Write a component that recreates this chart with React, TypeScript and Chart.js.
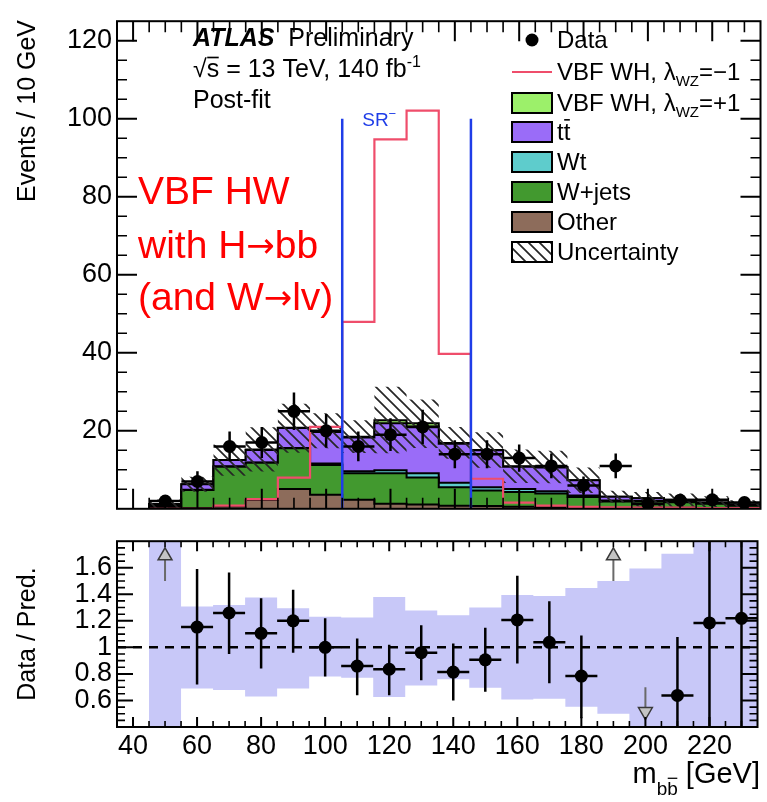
import React, { useEffect, useRef } from "react";
import { Chart, registerables } from "chart.js";

Chart.register(...registerables);

const FONT = '"Liberation Sans", Arial, Helvetica, sans-serif';
const ARROW_FONT = '"DejaVu Sans", "Liberation Sans", sans-serif';

// ---------------- data ----------------
const binCenters = [50, 60, 70, 80, 90, 100, 110, 120, 130, 140, 150, 160, 170, 180, 190, 200, 210, 220, 230];
const binWidth = 10;

const other = [0.3, 0.2, 0.6, 2.3, 5.1, 3.6, 2.3, 1.3, 1.1, 0.8, 0.7, 0.5, 0.4, 0.3, 0.3, 0.3, 0.3, 0.2, 0.2];
const wjets = [0.4, 4.6, 10.2, 9.5, 10.4, 7.6, 6.8, 7.8, 6.9, 4.7, 4.0, 3.8, 3.5, 2.7, 1.6, 1.6, 1.4, 1.1, 0.6];
const wt = [0.1, 0.1, 0.1, 0.1, 0.1, 0.4, 0.5, 0.8, 1.1, 1.2, 0.8, 0.8, 0.6, 0.4, 0.2, 0.1, 0.1, 0.1, 0.1];
const ttbar = [0.4, 1.4, 1.6, 3.2, 5.1, 8.1, 8.7, 12.0, 12.0, 10.0, 9.5, 5.7, 6.1, 3.9, 1.0, 0.7, 0.5, 0.2, 0.2];
const vbfPlus = [0, 0, 0, 0.1, 0.1, 0.2, 0.2, 0.8, 0.8, 0.2, 0.1, 0.1, 0.1, 0, 0, 0, 0, 0, 0];
const vbfMinus = [0, 0, 0.8, 2.5, 8.0, 21.0, 47.9, 94.7, 102.1, 39.7, 7.7, 1.6, 0.8, 0.5, 0.4, 0.3, 0.3, 0.2, 0.2];

const dataCounts = [2, 7, 16, 17, 25, 20, 16, 19, 21, 14, 14, 13, 11, 6, 11, 1.2, 2.2, 2.3, 1.6];
const dataErr = [1.4, 2.6, 3.8, 4.0, 4.8, 4.3, 3.8, 4.2, 4.4, 3.6, 3.6, 3.5, 3.2, 2.3, 3.2, 1.0, 1.4, 1.4, 1.2];

// relative uncertainty band (upper / lower edge, as ratio to prediction)
const uncHi = [2.0, 1.308, 1.32, 1.376, 1.294, 1.23, 1.226, 1.379, 1.278, 1.242, 1.3, 1.395, 1.388, 1.447, 1.5, 1.595, 1.706, 2.0, 2.0];
const uncLo = [0.0, 0.69, 0.678, 0.63, 0.69, 0.78, 0.772, 0.626, 0.713, 0.76, 0.696, 0.607, 0.612, 0.553, 0.5, 0.0, 0.0, 0.0, 0.0];

// Data / Pred. ratio (null = off scale, drawn as an arrow)
const ratioValues = [null, 1.153, 1.259, 1.106, 1.2, 1.0, 0.859, 0.835, 0.96, 0.814, 0.906, 1.207, 1.038, 0.784, null, null, 0.638, 1.184, 1.219];
const ratioErrHi = [null, 1.59, 1.565, 1.37, 1.435, 1.22, 1.066, 1.02, 1.167, 1.03, 1.148, 1.54, 1.348, 1.09, null, null, 1.078, 1.9, 1.9];
const ratioErrLo = [null, 0.72, 0.95, 0.84, 0.96, 0.78, 0.64, 0.64, 0.753, 0.6, 0.666, 0.878, 0.73, 0.466, null, null, 0.3, 0.3, 0.3];

const arrowUpBins = [50, 190];
const arrowDownBins = [200];
const arrowUpTail = 1.5;
const arrowUpHead = 1.69;
const arrowDownTail = 0.7;
const arrowDownHead = 0.516;

const srEdges = [105, 145];
const srHeight = 100;

const xTicks = [40, 60, 80, 100, 120, 140, 160, 180, 200, 220];
const yTicksTop = [20, 40, 60, 80, 100, 120];
const yTicksRatio = [0.6, 0.8, 1, 1.2, 1.4, 1.6];
const xRange = [35, 235];
const yRangeTop = [0, 125];
const yRangeRatio = [0.4, 1.8];

const COLORS = {
  other: "#8d6c5b",
  wjets: "#42992f",
  wt: "#5ecccc",
  ttbar: "#9a6cf8",
  vbfPlus: "#9cf06a",
  red: "#ef4d6b",
  blue: "#1f3de8",
  band: "#c8c8f8",
};

// ---------------- helpers ----------------
const n = binCenters.length;
const cumulate = (layers: number[][]) => binCenters.map((_, i) => layers.reduce((s, a) => s + a[i], 0));
const cumOther = cumulate([other]);
const cumWjets = cumulate([other, wjets]);
const cumWt = cumulate([other, wjets, wt]);
const cumTtbar = cumulate([other, wjets, wt, ttbar]);
const cumVbf = cumulate([other, wjets, wt, ttbar, vbfPlus]);
const hatchHi = cumVbf.map((t, i) => t * uncHi[i]);
const hatchLo = cumVbf.map((t, i) => t * uncLo[i]);

function histPoints(values: number[], closed: boolean) {
  const pts: { x: number; y: number }[] = [];
  const left = binCenters[0] - binWidth / 2;
  const right = binCenters[n - 1] + binWidth / 2;
  if (closed) pts.push({ x: left, y: 0 });
  values.forEach((v, i) => pts.push({ x: binCenters[i] - binWidth / 2, y: v }));
  pts.push({ x: right, y: values[n - 1] });
  if (closed) pts.push({ x: right, y: 0 });
  return pts;
}

type Part = { t: string; size: number; dy?: number; bold?: boolean; italic?: boolean; over?: number; family?: string };
function fontStr(p: Part) {
  return `${p.italic ? "italic " : ""}${p.bold ? "bold " : ""}${p.size}px ${p.family || FONT}`;
}
function drawRich(ctx: CanvasRenderingContext2D, parts: Part[], x: number, y: number, align: "left" | "right", color: string) {
  ctx.save();
  ctx.fillStyle = color;
  ctx.strokeStyle = color;
  ctx.textAlign = "left";
  ctx.textBaseline = "alphabetic";
  const widths = parts.map((p) => {
    ctx.font = fontStr(p);
    return ctx.measureText(p.t).width;
  });
  const total = widths.reduce((a, b) => a + b, 0);
  let cx = align === "right" ? x - total : x;
  parts.forEach((p, i) => {
    ctx.font = fontStr(p);
    const yy = y + (p.dy || 0);
    ctx.fillText(p.t, cx, yy);
    if (p.over) {
      ctx.lineWidth = Math.max(1.2, p.size / 15);
      ctx.beginPath();
      const top = yy - p.size * p.over;
      ctx.moveTo(cx + 0.5, top);
      ctx.lineTo(cx + widths[i] - 0.5, top);
      ctx.stroke();
    }
    cx += widths[i];
  });
  ctx.restore();
}

function tickValues(min: number, max: number, step: number) {
  const out: number[] = [];
  const k0 = Math.ceil(min / step - 1e-9);
  const k1 = Math.floor(max / step + 1e-9);
  for (let k = k0; k <= k1; k++) out.push(+(k * step).toFixed(6));
  return out;
}
const isMult = (v: number, step: number) => Math.abs(v / step - Math.round(v / step)) < 1e-6;

function drawFrameTicks(chart: any, o: any) {
  const { ctx, chartArea: a, scales } = chart;
  const x = scales.x, y = scales.y;
  ctx.save();
  ctx.strokeStyle = "#000";
  tickValues(x.min, x.max, o.xMinor).forEach((v) => {
    if (Math.abs(v - x.min) < 1e-6 || Math.abs(v - x.max) < 1e-6) return;
    const major = isMult(v, o.xMajor);
    const len = major ? o.xMajorLen : o.xMinorLen;
    const px = x.getPixelForValue(v);
    ctx.lineWidth = major ? 2 : 1.6;
    ctx.beginPath();
    ctx.moveTo(px, a.bottom);
    ctx.lineTo(px, a.bottom - len);
    ctx.moveTo(px, a.top);
    ctx.lineTo(px, a.top + len);
    ctx.stroke();
  });
  tickValues(y.min, y.max, o.yMinor).forEach((v) => {
    if (Math.abs(v - y.min) < 1e-6 || Math.abs(v - y.max) < 1e-6) return;
    const major = isMult(v, o.yMajor);
    const len = major ? o.yMajorLen : o.yMinorLen;
    const py = y.getPixelForValue(v);
    ctx.lineWidth = major ? 2 : 1.6;
    ctx.beginPath();
    ctx.moveTo(a.left, py);
    ctx.lineTo(a.left + len, py);
    ctx.moveTo(a.right, py);
    ctx.lineTo(a.right - len, py);
    ctx.stroke();
  });
  ctx.lineWidth = 2;
  ctx.strokeRect(a.left, a.top, a.right - a.left, a.bottom - a.top);
  ctx.restore();
}

function makeHatch(): CanvasPattern | string {
  const c = document.createElement("canvas");
  const s = 11;
  c.width = s;
  c.height = s;
  const g = c.getContext("2d");
  if (!g) return "rgba(0,0,0,0.3)";
  g.strokeStyle = "#262626";
  g.lineWidth = 1.7;
  g.beginPath();
  for (let k = -1; k <= 1; k++) {
    g.moveTo(-1, k * s - 1);
    g.lineTo(s + 1, s + k * s + 1);
  }
  g.stroke();
  const p = g.createPattern(c, "repeat");
  return p || "rgba(0,0,0,0.3)";
}

const DATA_IDX = 8;

function topConfig(hatch: any): any {
  const layer = (label: string, values: number[], color: string, order: number) => ({
    type: "line",
    label,
    data: histPoints(values, true),
    stepped: "before",
    fill: "origin",
    backgroundColor: color,
    borderColor: "#000",
    borderWidth: 2,
    pointRadius: 0,
    tension: 0,
    order,
  });
  const datasets = [
    layer("Other", cumOther, COLORS.other, 20),
    layer("W+jets", cumWjets, COLORS.wjets, 21),
    layer("Wt", cumWt, COLORS.wt, 22),
    layer("tt", cumTtbar, COLORS.ttbar, 23),
    layer("VBF WH +1", cumVbf, COLORS.vbfPlus, 24),
    {
      type: "line", label: "unc lo", data: histPoints(hatchLo, false), stepped: "before",
      borderWidth: 0, borderColor: "transparent", pointRadius: 0, fill: false, order: 15,
    },
    {
      type: "line", label: "Uncertainty", data: histPoints(hatchHi, false), stepped: "before",
      borderWidth: 0, borderColor: "transparent", pointRadius: 0, fill: "-1", backgroundColor: hatch, order: 14,
    },
    {
      type: "line", label: "VBF WH -1", data: histPoints(vbfMinus, true), stepped: "before",
      borderColor: COLORS.red, borderWidth: 2.2, pointRadius: 0, fill: false, order: 10,
    },
    {
      type: "scatter", label: "Data", data: binCenters.map((c, i) => ({ x: c, y: dataCounts[i] })),
      pointRadius: 6.5, pointBackgroundColor: "#000", pointBorderWidth: 0, showLine: false, order: 1,
    },
  ];

  const plugin = {
    id: "topDeco",
    beforeDatasetDraw(chart: any, args: any) {
      if (args.index !== DATA_IDX) return;
      const { ctx, chartArea: a, scales: { x, y } } = chart;
      ctx.save();
      ctx.beginPath();
      ctx.rect(a.left, a.top, a.right - a.left, a.bottom - a.top);
      ctx.clip();
      ctx.strokeStyle = "#000";
      ctx.lineWidth = 2.5;
      binCenters.forEach((c, i) => {
        const v = dataCounts[i];
        const e = dataErr[i];
        const px = x.getPixelForValue(c);
        const py = y.getPixelForValue(v);
        ctx.beginPath();
        ctx.moveTo(px, y.getPixelForValue(Math.max(v - e, 0)));
        ctx.lineTo(px, y.getPixelForValue(v + e));
        ctx.moveTo(x.getPixelForValue(c - binWidth / 2), py);
        ctx.lineTo(x.getPixelForValue(c + binWidth / 2), py);
        ctx.stroke();
      });
      ctx.restore();
    },
    afterDatasetsDraw(chart: any) {
      const { ctx, scales: { x, y } } = chart;
      ctx.save();
      ctx.strokeStyle = COLORS.blue;
      ctx.lineWidth = 2.5;
      srEdges.forEach((e) => {
        const px = x.getPixelForValue(e);
        ctx.beginPath();
        ctx.moveTo(px, y.getPixelForValue(0));
        ctx.lineTo(px, y.getPixelForValue(srHeight));
        ctx.stroke();
      });
      ctx.restore();
      drawRich(ctx, [{ t: "SR", size: 19 }, { t: "\u2212", size: 13, dy: -8 }], x.getPixelForValue(srEdges[0]) + 20, 126, "left", COLORS.blue);

      drawFrameTicks(chart, {
        xMajor: 20, xMinor: 5, xMajorLen: 20, xMinorLen: 11,
        yMajor: 20, yMinor: 5, yMajorLen: 20, yMinorLen: 10,
      });

      // ATLAS labels
      drawRich(ctx, [
        { t: "ATLAS", size: 25, bold: true, italic: true },
        { t: "  Preliminary", size: 25 },
      ], 193, 46, "left", "#000");
      drawRich(ctx, [
        { t: "\u221A", size: 25 },
        { t: "s", size: 25, over: 0.78 },
        { t: " = 13 TeV, 140 fb", size: 25 },
        { t: "-1", size: 16, dy: -10 },
      ], 193, 77, "left", "#000");
      drawRich(ctx, [{ t: "Post-fit", size: 25 }], 193, 108, "left", "#000");

      // red annotation
      const red = "#ff0000";
      drawRich(ctx, [{ t: "VBF HW", size: 39 }], 138, 204, "left", red);
      drawRich(ctx, [
        { t: "with H", size: 39 },
        { t: "\u2192", size: 34, family: ARROW_FONT, dy: -1 },
        { t: "bb", size: 39 },
      ], 138, 258, "left", red);
      drawRich(ctx, [
        { t: "(and W", size: 39 },
        { t: "\u2192", size: 34, family: ARROW_FONT, dy: -1 },
        { t: "lv)", size: 39 },
      ], 138, 310, "left", red);

      // legend
      const rows = [40, 72, 103, 132, 162, 192, 222, 252];
      const bx = 512, bw = 40, bh = 20, tx = 557, fs = 24;
      ctx.save();
      ctx.fillStyle = "#000";
      ctx.beginPath();
      ctx.arc(bx + bw / 2, rows[0], 6.5, 0, Math.PI * 2);
      ctx.fill();
      ctx.strokeStyle = COLORS.red;
      ctx.lineWidth = 2.2;
      ctx.beginPath();
      ctx.moveTo(bx, rows[1]);
      ctx.lineTo(bx + bw, rows[1]);
      ctx.stroke();
      const boxes: [number, any][] = [
        [2, COLORS.vbfPlus], [3, COLORS.ttbar], [4, COLORS.wt], [5, COLORS.wjets], [6, COLORS.other], [7, hatch],
      ];
      boxes.forEach(([r, col]) => {
        const top = rows[r] - bh / 2;
        if (r === 7) {
          ctx.fillStyle = "#fff";
          ctx.fillRect(bx, top, bw, bh);
        }
        ctx.fillStyle = col;
        ctx.fillRect(bx, top, bw, bh);
        ctx.strokeStyle = "#000";
        ctx.lineWidth = 2;
        ctx.strokeRect(bx, top, bw, bh);
      });
      ctx.restore();
      const by = (r: number) => rows[r] + 8;
      drawRich(ctx, [{ t: "Data", size: fs }], tx, by(0), "left", "#000");
      drawRich(ctx, [{ t: "VBF WH, \u03BB", size: fs }, { t: "WZ", size: 15, dy: 6 }, { t: "=\u22121", size: fs }], tx, by(1), "left", "#000");
      drawRich(ctx, [{ t: "VBF WH, \u03BB", size: fs }, { t: "WZ", size: 15, dy: 6 }, { t: "=+1", size: fs }], tx, by(2), "left", "#000");
      drawRich(ctx, [{ t: "t", size: fs }, { t: "t", size: fs, over: 0.84 }], tx, by(3), "left", "#000");
      drawRich(ctx, [{ t: "Wt", size: fs }], tx, by(4), "left", "#000");
      drawRich(ctx, [{ t: "W+jets", size: fs }], tx, by(5), "left", "#000");
      drawRich(ctx, [{ t: "Other", size: fs }], tx, by(6), "left", "#000");
      drawRich(ctx, [{ t: "Uncertainty", size: fs }], tx, by(7), "left", "#000");

      // y axis title
      ctx.save();
      ctx.translate(28, 20);
      ctx.rotate(-Math.PI / 2);
      ctx.font = `25px ${FONT}`;
      ctx.fillStyle = "#000";
      ctx.textAlign = "right";
      ctx.textBaseline = "middle";
      ctx.fillText("Events / 10 GeV", 0, 0);
      ctx.restore();
    },
  };

  return {
    type: "line",
    data: { datasets },
    options: {
      animation: false,
      responsive: false,
      devicePixelRatio: 1,
      events: [],
      layout: { padding: { left: 0, right: 2, top: 10, bottom: 1 } },
      plugins: { legend: { display: false }, tooltip: { enabled: false } },
      scales: {
        x: { type: "linear", min: xRange[0], max: xRange[1], display: false },
        y: {
          type: "linear",
          min: yRangeTop[0],
          max: yRangeTop[1],
          afterFit: (s: any) => { s.width = 117; },
          afterBuildTicks: (s: any) => { s.ticks = yTicksTop.map((v) => ({ value: v })); },
          grid: { display: false, drawTicks: false },
          border: { display: false },
          ticks: { padding: 5, color: "#000", font: { size: 27, family: FONT }, callback: (v: any) => String(v) },
        },
      },
    },
    plugins: [plugin],
  };
}

const RATIO_IDX = 3;
const ARROW_IDX = 4;

function ratioConfig(): any {
  const ratioPoints: { x: number; y: number }[] = [];
  binCenters.forEach((c, i) => {
    const r = ratioValues[i];
    if (r !== null) ratioPoints.push({ x: c, y: r });
  });
  const arrowPoints = [
    ...arrowUpBins.map((b) => ({ x: b, y: arrowUpHead })),
    ...arrowDownBins.map((b) => ({ x: b, y: arrowDownHead })),
  ];
  const arrowRot = [...arrowUpBins.map(() => 0), ...arrowDownBins.map(() => 180)];
  const datasets = [
    {
      type: "line", label: "band lo", data: histPoints(uncLo, false), stepped: "before",
      borderWidth: 0, borderColor: "transparent", pointRadius: 0, fill: false, order: 20,
    },
    {
      type: "line", label: "band hi", data: histPoints(uncHi, false), stepped: "before",
      borderWidth: 0, borderColor: "transparent", pointRadius: 0, fill: "-1", backgroundColor: COLORS.band, order: 19,
    },
    {
      type: "line", label: "unity", data: [{ x: xRange[0], y: 1 }, { x: xRange[1], y: 1 }],
      borderColor: "#000", borderWidth: 2.5, borderDash: [9, 7], pointRadius: 0, fill: false, order: 10,
    },
    {
      type: "scatter", label: "ratio", data: ratioPoints, pointRadius: 6.5, pointBackgroundColor: "#000",
      pointBorderWidth: 0, showLine: false, order: 2,
    },
    {
      type: "scatter", label: "arrows", data: arrowPoints, pointStyle: "triangle", pointRadius: 8,
      pointRotation: arrowRot, pointBackgroundColor: "#c4c4c4", pointBorderColor: "#3a3a3a",
      pointBorderWidth: 1.5, showLine: false, order: 1,
    },
  ];

  const plugin = {
    id: "ratioDeco",
    beforeDatasetDraw(chart: any, args: any) {
      const { ctx, chartArea: a, scales: { x, y } } = chart;
      if (args.index === RATIO_IDX) {
        ctx.save();
        ctx.beginPath();
        ctx.rect(a.left, a.top, a.right - a.left, a.bottom - a.top);
        ctx.clip();
        ctx.strokeStyle = "#000";
        ctx.lineWidth = 2.5;
        binCenters.forEach((c, i) => {
          const r = ratioValues[i];
          if (r === null) return;
          const px = x.getPixelForValue(c);
          const py = y.getPixelForValue(r);
          ctx.beginPath();
          ctx.moveTo(px, y.getPixelForValue(ratioErrLo[i] as number));
          ctx.lineTo(px, y.getPixelForValue(ratioErrHi[i] as number));
          ctx.moveTo(x.getPixelForValue(c - binWidth / 2), py);
          ctx.lineTo(x.getPixelForValue(c + binWidth / 2), py);
          ctx.stroke();
        });
        ctx.restore();
      }
      if (args.index === ARROW_IDX) {
        ctx.save();
        ctx.strokeStyle = "#6a6a6a";
        ctx.lineWidth = 2;
        ctx.beginPath();
        arrowUpBins.forEach((b) => {
          const px = x.getPixelForValue(b);
          ctx.moveTo(px, y.getPixelForValue(arrowUpTail));
          ctx.lineTo(px, y.getPixelForValue(arrowUpHead));
        });
        arrowDownBins.forEach((b) => {
          const px = x.getPixelForValue(b);
          ctx.moveTo(px, y.getPixelForValue(arrowDownTail));
          ctx.lineTo(px, y.getPixelForValue(arrowDownHead));
        });
        ctx.stroke();
        ctx.restore();
      }
    },
    afterDatasetsDraw(chart: any) {
      const { ctx, chartArea: a } = chart;
      drawFrameTicks(chart, {
        xMajor: 20, xMinor: 5, xMajorLen: 10, xMinorLen: 6,
        yMajor: 0.2, yMinor: 0.05, yMajorLen: 16, yMinorLen: 8,
      });
      ctx.save();
      ctx.translate(28, (a.top + a.bottom) / 2);
      ctx.rotate(-Math.PI / 2);
      ctx.font = `25px ${FONT}`;
      ctx.fillStyle = "#000";
      ctx.textAlign = "center";
      ctx.textBaseline = "middle";
      ctx.fillText("Data / Pred.", 0, 0);
      ctx.restore();
      drawRich(ctx, [
        { t: "m", size: 29 },
        { t: "b", size: 19, dy: 12 },
        { t: "b", size: 19, dy: 12, over: 0.88 },
        { t: " [GeV]", size: 29 },
      ], 760, 263, "right", "#000");
    },
  };

  return {
    type: "line",
    data: { datasets },
    options: {
      animation: false,
      responsive: false,
      devicePixelRatio: 1,
      events: [],
      layout: { padding: { left: 0, right: 2, top: 9, bottom: 0 } },
      plugins: { legend: { display: false }, tooltip: { enabled: false } },
      scales: {
        x: {
          type: "linear",
          min: xRange[0],
          max: xRange[1],
          afterFit: (s: any) => { s.height = 75; },
          afterBuildTicks: (s: any) => { s.ticks = xTicks.map((v) => ({ value: v })); },
          grid: { display: false, drawTicks: false },
          border: { display: false },
          ticks: {
            padding: 3, color: "#000", autoSkip: false, maxRotation: 0,
            font: { size: 27, family: FONT }, callback: (v: any) => String(v),
          },
        },
        y: {
          type: "linear",
          min: yRangeRatio[0],
          max: yRangeRatio[1],
          afterFit: (s: any) => { s.width = 117; },
          afterBuildTicks: (s: any) => { s.ticks = yTicksRatio.map((v) => ({ value: v })); },
          grid: { display: false, drawTicks: false },
          border: { display: false },
          ticks: {
            padding: 5, color: "#000", font: { size: 27, family: FONT },
            callback: (v: any) => String(+(+v).toFixed(2)),
          },
        },
      },
    },
    plugins: [plugin],
  };
}

export default function App() {
  const topRef = useRef<HTMLCanvasElement>(null);
  const botRef = useRef<HTMLCanvasElement>(null);
  useEffect(() => {
    Chart.defaults.font.family = FONT;
    Chart.defaults.color = "#000";
    const hatch = makeHatch();
    const top = new Chart(topRef.current as HTMLCanvasElement, topConfig(hatch));
    const bot = new Chart(botRef.current as HTMLCanvasElement, ratioConfig());
    return () => {
      top.destroy();
      bot.destroy();
    };
  }, []);
  return (
    <div style={{ position: "absolute", left: 0, top: 0, width: 767, height: 802, background: "#fff", overflow: "hidden" }}>
      <canvas ref={topRef} width={767} height={530} style={{ position: "absolute", left: 0, top: 0, width: 767, height: 530 }} />
      <canvas ref={botRef} width={767} height={282} style={{ position: "absolute", left: 0, top: 520, width: 767, height: 282 }} />
    </div>
  );
}
